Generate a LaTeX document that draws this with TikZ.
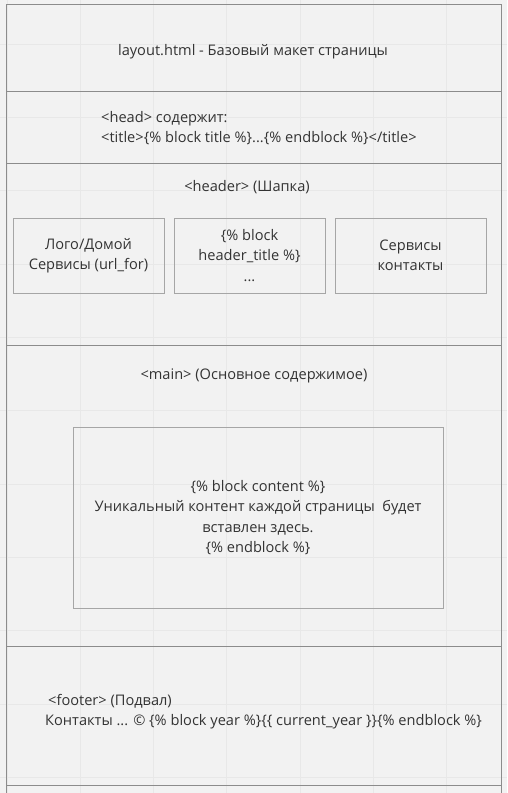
\documentclass[tikz,border=0pt]{standalone}
\usepackage{fontspec}
\setmainfont{Open Sans}
\begin{document}
\begin{tikzpicture}[x=1pt,y=-1pt]
  % Colors
  \colorlet{bgcolor}{black!5}
  \colorlet{gridcolor}{black!9}
  \colorlet{framecolor}{black!45}
  \colorlet{boxcolor}{black!35}
  \colorlet{textcolor}{black!80}

  % Styles
  \tikzstyle{section line}=[draw=framecolor,line width=0.8pt]
  \tikzstyle{label text}=[text=textcolor,inner sep=0pt,
    font=\fontsize{14.6}{20.5}\selectfont]
  \tikzstyle{block}=[style=label text,draw=boxcolor,line width=0.8pt,
    align=center,minimum width=151pt,minimum height=75pt]

  % Page and grid
  \useasboundingbox (0,0) rectangle (507,793);
  \clip (0,0) rectangle (507,793);
  \fill[bgcolor] (0,0) rectangle (507,793);
  \foreach \gx in {0,...,6}
    \draw[gridcolor] (6.7+73.3*\gx,0) -- (6.7+73.3*\gx,793);
  \foreach \gy in {0,...,10}
    \draw[gridcolor] (0,44+73.3*\gy) -- (507,44+73.3*\gy);

  % The frame and its sections
  \draw[style=section line] (6.5,800) -- (6.5,4.3) -- (501.7,4.3) -- (501.7,800);
  \foreach \sy in {91,163,345,646,785}
    \draw[style=section line] (6.5,\sy) -- (501.7,\sy);

  % layout
  \node[style=label text] (layout) at (253,52)
    {layout.html - Базовый макет страницы};

  % head
  \node[style=label text,anchor=west,align=left] (head) at (101,128)
    {<head> содержит:\\<title>\{\% block title \%\}...\{\% endblock \%\}</title>};

  % header
  \node[style=label text] (header) at (247,187) {<header> (Шапка)};
  \node[style=block] (logo) at (88.5,255.5) {Лого/Домой\\Сервисы (url\_for)};
  \node[style=block] (headertitle) at (249.5,255.5)
    {\{\% block\\header\_title \%\}\\...};
  \node[style=block] (services) at (410.5,255.5) {Сервисы\\контакты};

  % main
  \node[style=label text] (main) at (254,376) {<main> (Основное содержимое)};
  \node[style=block,minimum width=370pt,minimum height=181pt] (content)
    at (258,517.5)
    {\{\% block content \%\}\\Уникальный контент каждой страницы \ будет\\
     вставлен здесь.\\\{\% endblock \%\}};

  % footer
  \node[style=label text,anchor=west] (footer) at (48,701) {<footer> (Подвал)};
  \node[style=label text,anchor=west] (footertext) at (45,722)
    {Контакты ... © \{\% block year \%\}\{\{ current\_year \}\}\{\% endblock \%\}};
\end{tikzpicture}
\end{document}
